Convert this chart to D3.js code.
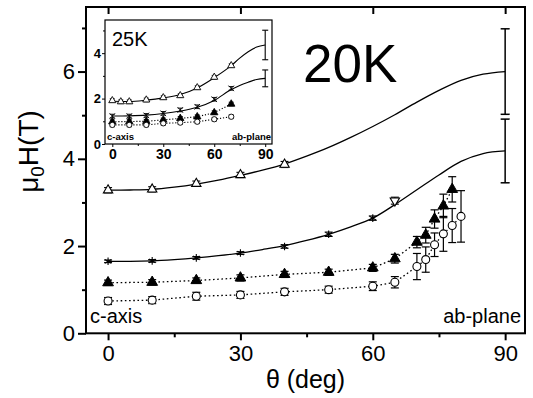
<!DOCTYPE html>
<html><head><meta charset="utf-8">
<script src="https://cdn.jsdelivr.net/npm/d3@7"></script>
<style>
body{margin:0;background:#fff;}
text{font-family:"Liberation Sans",Arial,sans-serif;fill:#000;}
</style></head><body>
<svg id="c" width="533" height="398"></svg>
<script>
// ---------- main panel data (20K) ----------
const upperTheta = [0,10,20,30,40];
const upperH     = [3.28,3.30,3.43,3.63,3.87];
const upperErr   = [0.06,0.06,0.06,0.06,0.07];
const fitTheta   = [0,5,10,15,20,25,30,35,40,45,50,55,60,65,70,75,80,85,90];
const upperFit   = [3.28,3.285,3.30,3.35,3.42,3.51,3.62,3.74,3.88,4.06,4.26,4.49,4.74,5.01,5.30,5.57,5.80,5.94,6.00];
const lowerFit   = [1.65,1.65,1.66,1.69,1.73,1.78,1.84,1.92,2.01,2.13,2.27,2.44,2.64,2.95,3.29,3.63,3.94,4.12,4.18];
const endTheta   = [90,90];
const endH       = [6.00,4.18];
const endErr     = [0.98,0.73];

const starTheta  = [0,10,20,30,40,50,60];
const starH      = [1.65,1.66,1.73,1.84,1.99,2.27,2.64];
const starErr    = [0.03,0.03,0.03,0.03,0.04,0.05,0.05];
const downTheta  = [65];
const downH      = [3.04];
const downErr    = [0.08];

const filledTheta = [0,10,20,30,40,50,60,65,70,72,74,76,78];
const filledH     = [1.16,1.17,1.21,1.27,1.35,1.40,1.50,1.71,2.09,2.25,2.62,2.92,3.30];
const filledErr   = [0.06,0.06,0.06,0.07,0.07,0.07,0.08,0.10,0.13,0.18,0.21,0.27,0.29];

const openTheta = [0,10,20,30,40,50,60,65,70,72,74,76,78,80];
const openH     = [0.74,0.76,0.85,0.88,0.95,1.00,1.08,1.17,1.53,1.69,2.03,2.28,2.47,2.68];
const openErr   = [0.08,0.08,0.09,0.08,0.08,0.08,0.10,0.13,0.30,0.29,0.27,0.40,0.39,0.59];

const xTicks = [0,30,60,90];
const xMinor = [15,45,75];
const yTicks = [0,2,4,6];
const yMinor = [1,3,5,7];

// ---------- inset data (25K) ----------
const inUpperTheta = [0,5,10,20,30,40,50,60,70];
const inUpperH     = [1.91,1.86,1.86,1.94,2.04,2.13,2.48,2.94,3.45];
const inFitTheta   = [0,10,20,30,40,50,60,70,75,80,85,90];
const inUpperFit   = [1.88,1.87,1.93,2.03,2.18,2.47,2.92,3.45,3.78,4.06,4.27,4.36];
const inMidFit     = [1.23,1.24,1.27,1.34,1.45,1.62,1.92,2.40,2.58,2.72,2.84,2.89];
const inMidTheta   = [0,10,20,30,40,50,60,70];
const inMidH       = [1.23,1.23,1.26,1.35,1.50,1.64,1.97,2.45];
const inEndTheta   = [90,90];
const inEndH       = [4.36,2.89];
const inEndErr     = [0.65,0.37];
const inLowTheta   = [0,10,20,30,40,50,60,70];
const inFilledH    = [0.98,0.99,1.00,1.06,1.13,1.20,1.38,1.76];
const inOpenH      = [0.84,0.84,0.84,0.91,0.94,0.98,1.09,1.20];
const inXTicks = [0,30,60,90];
const inXMinor = [15,45,75];
const inYTicks = [0,2,4];
const inYMinor = [1,3,5];

const svg = d3.select("#c");

// ---------- main scales ----------
const x = d3.scaleLinear().domain([-5,94.5]).range([86,525]);
const y = d3.scaleLinear().domain([0,7.48]).range([333.3,7]);

const main = svg.append("g");

function zip(t,v,e){return t.map((d,i)=>({t:d,v:v[i],e:e?e[i]:0}));}

function drawErr(g,sx,sy,data,cap,sw){
  const eg=g.append("g").attr("stroke","#000").attr("stroke-width",sw).attr("fill","none");
  data.forEach(d=>{
    if(!d.e) return;
    const xx=sx(d.t), y1=sy(d.v+d.e), y2=sy(d.v-d.e);
    eg.append("line").attr("x1",xx).attr("x2",xx).attr("y1",y1).attr("y2",y2);
    eg.append("line").attr("x1",xx-cap).attr("x2",xx+cap).attr("y1",y1).attr("y2",y1);
    eg.append("line").attr("x1",xx-cap).attr("x2",xx+cap).attr("y1",y2).attr("y2",y2);
  });
}
function drawSym(g,sx,sy,data,type,size,fill,rot,sw){
  g.append("g").selectAll("path").data(data).join("path")
    .attr("d",d3.symbol().type(type).size(size))
    .attr("transform",d=>`translate(${sx(d.t)},${sy(d.v)})${rot?" rotate(180)":""}`)
    .attr("fill",fill).attr("stroke","#000").attr("stroke-width",sw);
}

// fitted solid curves
const lineM = d3.line().x(d=>x(d.t)).y(d=>y(d.v)).curve(d3.curveMonotoneX);
main.append("path").datum(zip(fitTheta,upperFit)).attr("d",lineM).attr("fill","none").attr("stroke","#000").attr("stroke-width",1.3);
main.append("path").datum(zip(fitTheta,lowerFit)).attr("d",lineM).attr("fill","none").attr("stroke","#000").attr("stroke-width",1.3);

// dotted lines
const lineL = d3.line().x(d=>x(d.t)).y(d=>y(d.v));
main.append("path").datum(zip(filledTheta,filledH)).attr("d",lineL).attr("fill","none").attr("stroke","#000").attr("stroke-width",1.3).attr("stroke-dasharray","1.6,2.6");
main.append("path").datum(zip(openTheta,openH)).attr("d",lineL).attr("fill","none").attr("stroke","#000").attr("stroke-width",1.3).attr("stroke-dasharray","1.6,2.6");

// error bars
drawErr(main,x,y,zip(endTheta,endH,endErr),4.5,1.5);
drawErr(main,x,y,zip(upperTheta,upperH,upperErr),4,1.1);
drawErr(main,x,y,zip(starTheta,starH,starErr),4,1.1);
drawErr(main,x,y,zip(downTheta,downH,downErr),4,1.1);
drawErr(main,x,y,zip(filledTheta,filledH,filledErr),4,1.2);
drawErr(main,x,y,zip(openTheta,openH,openErr),4,1.2);

// markers
drawSym(main,x,y,zip(upperTheta,upperH),d3.symbolTriangle,38,"#fff",false,1.1);
drawSym(main,x,y,zip(starTheta,starH),d3.symbolAsterisk,40,"none",false,1.1);
drawSym(main,x,y,zip(downTheta,downH),d3.symbolTriangle,38,"#fff",true,1.1);
drawSym(main,x,y,zip(filledTheta,filledH),d3.symbolTriangle,50,"#000",false,1);
drawSym(main,x,y,zip(openTheta,openH),d3.symbolCircle,50,"#fff",false,1.1);

// main axes
const ax = main.append("g").attr("stroke","#000");
const xa = d3.axisBottom(x).tickValues(xTicks).tickSize(7).tickPadding(5).tickFormat(d3.format("d"));
const gx = main.append("g").attr("transform","translate(0,333.3)").call(xa);
gx.select(".domain").remove();
gx.selectAll("line").attr("stroke-width",2);
gx.selectAll("text").attr("font-size",22).attr("fill","#000");
const gxm = main.append("g").attr("transform","translate(0,333.3)").call(d3.axisBottom(x).tickValues(xMinor).tickSize(4).tickFormat(""));
gxm.select(".domain").remove(); gxm.selectAll("line").attr("stroke-width",2);
const gxt = main.append("g").attr("transform","translate(0,7)").call(d3.axisBottom(x).tickValues(xTicks).tickSize(7).tickFormat(""));
gxt.select(".domain").remove(); gxt.selectAll("line").attr("stroke-width",2);

const ya = d3.axisLeft(y).tickValues(yTicks).tickSize(8).tickPadding(3).tickFormat(d3.format("d"));
const gy = main.append("g").attr("transform","translate(86,0)").call(ya);
gy.select(".domain").remove();
gy.selectAll("line").attr("stroke-width",2);
gy.selectAll("text").attr("font-size",22).attr("fill","#000");
const gym = main.append("g").attr("transform","translate(86,0)").call(d3.axisLeft(y).tickValues(yMinor).tickSize(4).tickFormat(""));
gym.select(".domain").remove(); gym.selectAll("line").attr("stroke-width",2);

main.append("rect").attr("x",86).attr("y",7).attr("width",439).attr("height",326.3)
  .attr("fill","none").attr("stroke","#000").attr("stroke-width",2);

// labels
main.append("text").attr("x",305.5).attr("y",388).attr("text-anchor","middle").attr("font-size",25).text("θ (deg)");
const yl = main.append("text").attr("transform","translate(38,151.5) rotate(-90)").attr("text-anchor","middle").attr("font-size",28);
yl.append("tspan").text("μ");
yl.append("tspan").attr("font-size",19).attr("dy",6).text("0");
yl.append("tspan").attr("dy",-6).text("H(T)");
main.append("text").attr("x",303).attr("y",82).attr("font-size",53).text("20K");
main.append("text").attr("x",90).attr("y",323).attr("font-size",20).text("c-axis");
main.append("text").attr("x",521).attr("y",323).attr("text-anchor","end").attr("font-size",20).text("ab-plane");

// ---------- inset ----------
const ix = d3.scaleLinear().domain([-4.3,94]).range([105,272]);
const iy = d3.scaleLinear().domain([0,5.46]).range([144,20]);
const ins = svg.append("g");
ins.append("rect").attr("x",105).attr("y",20).attr("width",167).attr("height",124).attr("fill","#fff").attr("stroke","none");

const lineI = d3.line().x(d=>ix(d.t)).y(d=>iy(d.v)).curve(d3.curveMonotoneX);
ins.append("path").datum(zip(inFitTheta,inUpperFit)).attr("d",lineI).attr("fill","none").attr("stroke","#000").attr("stroke-width",1.1);
ins.append("path").datum(zip(inFitTheta,inMidFit)).attr("d",lineI).attr("fill","none").attr("stroke","#000").attr("stroke-width",1.1);
const lineIL = d3.line().x(d=>ix(d.t)).y(d=>iy(d.v));
ins.append("path").datum(zip(inLowTheta,inFilledH)).attr("d",lineIL).attr("fill","none").attr("stroke","#000").attr("stroke-width",1.1).attr("stroke-dasharray","1.2,1.8");
ins.append("path").datum(zip(inLowTheta,inOpenH)).attr("d",lineIL).attr("fill","none").attr("stroke","#000").attr("stroke-width",1.1).attr("stroke-dasharray","1.2,1.8");

drawErr(ins,ix,iy,zip(inEndTheta,inEndH,inEndErr),3,1.1);
const smallErr = t=>t.map(()=>0.08);
drawErr(ins,ix,iy,zip(inUpperTheta,inUpperH,smallErr(inUpperTheta)),2.5,0.9);
drawErr(ins,ix,iy,zip(inMidTheta,inMidH,smallErr(inMidTheta)),2.5,0.9);
drawErr(ins,ix,iy,zip(inLowTheta,inFilledH,smallErr(inLowTheta)),2.5,0.9);
drawErr(ins,ix,iy,zip(inLowTheta,inOpenH,smallErr(inLowTheta)),2.5,0.9);
drawSym(ins,ix,iy,zip(inUpperTheta,inUpperH),d3.symbolTriangle,22,"#fff",false,0.9);
drawSym(ins,ix,iy,zip(inMidTheta,inMidH),d3.symbolX,22,"none",false,0.9);
drawSym(ins,ix,iy,zip(inLowTheta,inFilledH),d3.symbolTriangle,24,"#000",false,0.8);
drawSym(ins,ix,iy,zip(inLowTheta,inOpenH),d3.symbolCircle,22,"#fff",false,0.9);

const igx = ins.append("g").attr("transform","translate(0,144)").call(d3.axisBottom(ix).tickValues(inXTicks).tickSize(3).tickPadding(2).tickFormat(d3.format("d")));
igx.select(".domain").remove();
igx.selectAll("text").attr("font-size",14).attr("font-weight","bold").attr("fill","#000");
const igxm = ins.append("g").attr("transform","translate(0,144)").call(d3.axisBottom(ix).tickValues(inXMinor).tickSize(2).tickFormat(""));
igxm.select(".domain").remove();
const igy = ins.append("g").attr("transform","translate(105,0)").call(d3.axisLeft(iy).tickValues(inYTicks).tickSize(3).tickPadding(1).tickFormat(d3.format("d")));
igy.select(".domain").remove();
igy.selectAll("text").attr("font-size",13).attr("font-weight","bold").attr("fill","#000");
const igym = ins.append("g").attr("transform","translate(105,0)").call(d3.axisLeft(iy).tickValues(inYMinor).tickSize(2).tickFormat(""));
igym.select(".domain").remove();

ins.append("rect").attr("x",105).attr("y",20).attr("width",167).attr("height",124)
  .attr("fill","none").attr("stroke","#000").attr("stroke-width",1.2);
ins.append("text").attr("x",112).attr("y",46).attr("font-size",20).text("25K");
ins.append("text").attr("x",107).attr("y",140).attr("font-size",9.5).attr("font-weight","bold").text("c-axis");
ins.append("text").attr("x",271).attr("y",140).attr("text-anchor","end").attr("font-size",9.5).attr("font-weight","bold").text("ab-plane");
</script>
</body></html>
